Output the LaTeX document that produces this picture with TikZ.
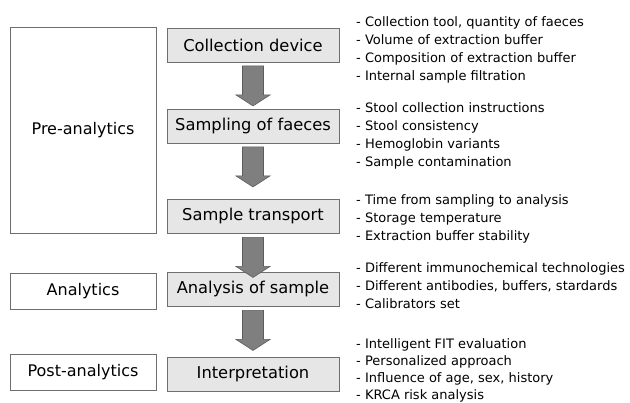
\documentclass[tikz,border=0pt]{standalone}
\usepackage{fontspec}
\setmainfont{DejaVu Sans}
\usetikzlibrary{calc}
\definecolor{boxfill}{HTML}{E6E6E6}
\definecolor{boxline}{HTML}{6E6E6E}
\definecolor{arrfill}{HTML}{7F7F7F}
\definecolor{arrline}{HTML}{5C5C5C}
\tikzset{
  stage/.style={draw=boxline, line width=0.9pt, fill=boxfill, minimum width=172pt, minimum height=34pt, inner sep=0pt, font=\fontsize{16.3}{18}\selectfont},
  phase/.style={draw=boxline, line width=0.9pt, fill=white, minimum width=146pt, inner sep=0pt, font=\fontsize{16}{18}\selectfont},
  items/.style={anchor=north west, align=left, inner sep=0pt, font=\fontsize{13}{18}\selectfont},
  flow/.style={draw=arrline, fill=arrfill, line width=0.6pt, line join=miter}
}
\newcommand{\bigarrow}[2]{%
  \path let \p1=($(#1.south)+(0,-3.5pt)$) in
    [flow] (\x1-10.5pt,\y1) -- (\x1+10.5pt,\y1) -- (\x1+10.5pt,\y1-29pt)
      -- (\x1+17pt,\y1-29pt) -- (\x1,\y1-40pt) -- (\x1-17pt,\y1-29pt)
      -- (\x1-10.5pt,\y1-29pt) -- cycle;}
\begin{document}
\begin{tikzpicture}[x=1pt,y=-1pt]
\useasboundingbox[fill=white] (0,0) rectangle (630,403);
% phases
\node[phase, minimum height=206pt] (pre) at (83,130) {Pre-analytics};
\node[phase, minimum height=36pt] (ana) at (83,291) {Analytics};
\node[phase, minimum height=36pt] (post) at (83,372) {Post-analytics};
% stages
\node[stage] (s1) at (253,45) {Collection device};
\node[stage] (s2) at (253,126) {Sampling of faeces};
\node[stage] (s3) at (253,216.5) {Sample transport};
\node[stage] (s4) at (253,289.5) {Analysis of sample};
\node[stage] (s5) at (253,374) {Interpretation};
% arrows
\bigarrow{s1}{s2}
\bigarrow{s2}{s3}
\bigarrow{s3}{s4}
\bigarrow{s4}{s5}
% lists
\node[items] (l1) at (356,16.5) {- Collection tool, quantity of faeces\\- Volume of extraction buffer\\- Composition of extraction buffer\\- Internal sample filtration};
\node[items] (l2) at (356,102.5) {- Stool collection instructions\\- Stool consistency\\- Hemoglobin variants\\- Sample contamination};
\node[items] (l3) at (356,194.5) {- Time from sampling to analysis\\- Storage temperature\\- Extraction buffer stability};
\node[items] (l4) at (356,262.5) {- Different immunochemical technologies\\- Different antibodies, buffers, stardards\\- Calibrators set};
\node[items, font=\fontsize{13}{17.3}\selectfont] (l5) at (356,338) {- Intelligent FIT evaluation\\- Personalized approach\\- Influence of age, sex, history\\- KRCA risk analysis};
\end{tikzpicture}
\end{document}
